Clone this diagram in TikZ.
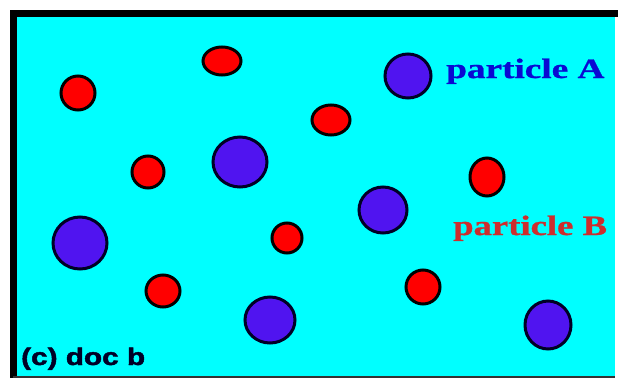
\documentclass[tikz,border=0pt]{standalone}
\usepackage{fontspec}
\setmainfont{Liberation Serif}
\setsansfont{Liberation Sans}
\newfontfamily\capfont[FakeBold=1.6]{Liberation Sans Bold}
\newfontfamily\tagfont[FakeBold=0.8]{Liberation Serif Bold}
\usepackage{tikz}
\usetikzlibrary{calc}
\definecolor{solvcyan}{RGB}{0,255,255}
\definecolor{partred}{RGB}{255,0,0}
\definecolor{partblue}{RGB}{80,20,240}
\definecolor{labelblue}{RGB}{10,10,210}
\definecolor{labelred}{RGB}{205,45,45}
\tikzset{
  redpart/.style={fill=partred, draw=black, line width=3pt},
  bluepart/.style={fill=partblue, draw=black!85!blue, line width=3pt},
  tag/.style={inner sep=0pt, anchor=base west, font=\tagfont\fontsize{28}{30}\selectfont}
}

\begin{document}
\begin{tikzpicture}[x=1pt, y=-1pt]
  \useasboundingbox (0,0) rectangle (618,380);

  % Solution
  \fill[solvcyan] (13,13) rectangle (615,377);
  \draw[line width=7pt] (13,378) -- (13,13) -- (618,13);
  \draw[line width=1.5pt, black!80] (13,377) -- (615,377);

  % === Particles B (small, red) ===
  \foreach \px/\py/\rx/\ry in {78/93/17/17, 222/61/19/14, 331/120/19/15,
      148/172/16/16, 487/177/17/19, 287/238/15/15, 163/291/17/16, 423/287/17/17}
    \path[redpart] (\px,\py) ellipse [x radius=\rx, y radius=\ry];

  % === Particles A (large, blue) ===
  \foreach \px/\py/\rx/\ry in {408/76/23/22, 240/162/27/25, 383/210/24/23,
      80/243/27/26, 270/320/25/23, 548/325/23/24}
    \path[bluepart] (\px,\py) ellipse [x radius=\rx, y radius=\ry];

  % Labels
  \node[tag, labelblue] (labelA) at (446,78)
    {\scalebox{1.33}[1]{particle A}};
  \node[tag, labelred] (labelB) at (453,235)
    {\scalebox{1.31}[1]{particle B}};
  \node[tag, font=\capfont\fontsize{24}{26}\selectfont, black!85!blue] (caption) at (21,365)
    {\scalebox{1.24}[1]{(c) doc b}};

\end{tikzpicture}
\end{document}
